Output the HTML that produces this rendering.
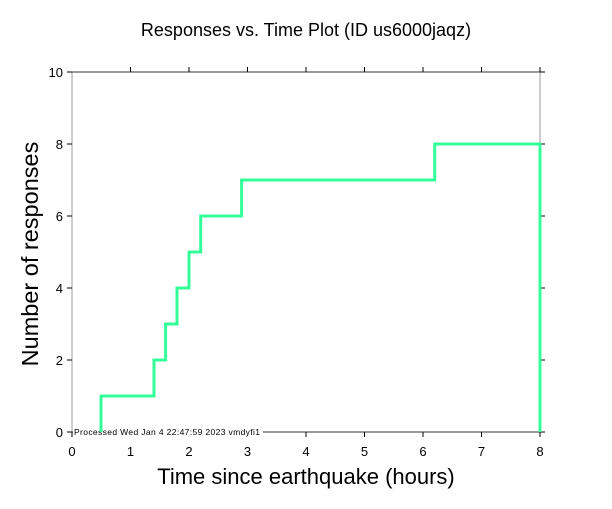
<!DOCTYPE html><html><head><style>body{margin:0;background:#fff}svg text{font-family:"Liberation Sans",sans-serif}</style></head><body>
<svg width="612" height="504" xmlns="http://www.w3.org/2000/svg">
<rect width="612" height="504" fill="#fff"/>
<text x="306" y="36" font-size="18" text-anchor="middle">Responses vs. Time Plot (ID us6000jaqz)</text>
<line x1="72" y1="72" x2="72" y2="432" stroke="#999" stroke-width="1"/>
<line x1="540" y1="72" x2="540" y2="432" stroke="#999" stroke-width="1"/>
<line x1="72" y1="72" x2="540" y2="72" stroke="#333" stroke-width="1"/>
<line x1="72" y1="432" x2="540" y2="432" stroke="#333" stroke-width="1"/>
<g stroke="#000" stroke-width="1">
<line x1="72" y1="432" x2="72" y2="437"/><line x1="130.5" y1="432" x2="130.5" y2="437"/><line x1="189" y1="432" x2="189" y2="437"/><line x1="247.5" y1="432" x2="247.5" y2="437"/><line x1="306" y1="432" x2="306" y2="437"/><line x1="364.5" y1="432" x2="364.5" y2="437"/><line x1="423" y1="432" x2="423" y2="437"/><line x1="481.5" y1="432" x2="481.5" y2="437"/><line x1="540" y1="432" x2="540" y2="437"/>
<line x1="130.5" y1="72" x2="130.5" y2="67"/><line x1="189" y1="72" x2="189" y2="67"/><line x1="247.5" y1="72" x2="247.5" y2="67"/><line x1="306" y1="72" x2="306" y2="67"/><line x1="364.5" y1="72" x2="364.5" y2="67"/><line x1="423" y1="72" x2="423" y2="67"/><line x1="481.5" y1="72" x2="481.5" y2="67"/><line x1="540" y1="72" x2="540" y2="67"/>
<line x1="67" y1="432" x2="72" y2="432"/><line x1="67" y1="360" x2="72" y2="360"/><line x1="67" y1="288" x2="72" y2="288"/><line x1="67" y1="216" x2="72" y2="216"/><line x1="67" y1="144" x2="72" y2="144"/><line x1="67" y1="72" x2="72" y2="72"/>
<line x1="540" y1="432" x2="545" y2="432"/><line x1="540" y1="360" x2="545" y2="360"/><line x1="540" y1="288" x2="545" y2="288"/><line x1="540" y1="216" x2="545" y2="216"/><line x1="540" y1="144" x2="545" y2="144"/><line x1="540" y1="72" x2="545" y2="72"/>
</g>
<g font-size="13" text-anchor="middle">
<text x="72" y="456">0</text><text x="130.5" y="456">1</text><text x="189" y="456">2</text><text x="247.5" y="456">3</text><text x="306" y="456">4</text><text x="364.5" y="456">5</text><text x="423" y="456">6</text><text x="481.5" y="456">7</text><text x="540" y="456">8</text>
</g>
<g font-size="13" text-anchor="end">
<text x="63" y="437">0</text><text x="63" y="365">2</text><text x="63" y="293">4</text><text x="63" y="221">6</text><text x="63" y="149">8</text><text x="63" y="77">10</text>
</g>
<text x="306" y="484" font-size="22" text-anchor="middle">Time since earthquake (hours)</text>
<text transform="translate(38,254) rotate(-90)" font-size="23.5" text-anchor="middle">Number of responses</text>
<rect x="73" y="426" width="190" height="11" fill="#fff"/>
<text x="74" y="435" font-size="8.5" textLength="186">Processed Wed Jan  4 22:47:59 2023 vmdyfi1</text>
<polyline fill="none" stroke="#33ff99" stroke-width="3" points="101,432 101,396 154,396 154,360 165.6,360 165.6,324 177,324 177,288 189,288 189,252 200.7,252 200.7,216 241.6,216 241.6,180 434.7,180 434.7,144 540,144 540,432"/>
</svg>
</body></html>
